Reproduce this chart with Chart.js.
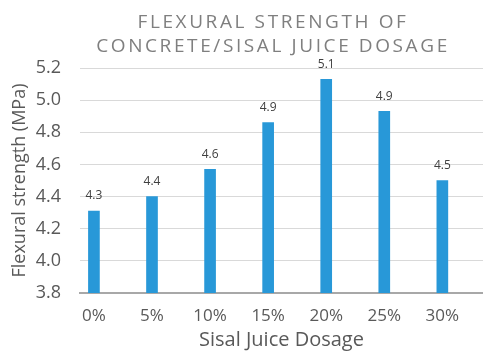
<!DOCTYPE html>
<html>
<head>
<meta charset="utf-8">
<script src="https://cdn.jsdelivr.net/npm/chart.js@4"></script>
<style>
  html, body { margin: 0; padding: 0; background: #ffffff; }
  #wrap { width: 483px; height: 353px; position: relative; }
</style>
</head>
<body>
<div id="wrap"><canvas id="c" width="483" height="353"></canvas></div>
<script>
// Sisal juice dosage categories and measured flexural strength (MPa)
const categories = ['0%', '5%', '10%', '15%', '20%', '25%', '30%'];
const strengthValues = [4.31, 4.40, 4.57, 4.86, 5.13, 4.93, 4.50];
const yTicks = [3.8, 4.0, 4.2, 4.4, 4.6, 4.8, 5.0, 5.2];
const titleLines = ['FLEXURAL STRENGTH OF', 'CONCRETE/SISAL JUICE DOSAGE'];
const xTitle = 'Sisal Juice Dosage';
const yTitle = 'Flexural strength (MPa)';

const FONT = '"Open Sans", "Noto Sans", sans-serif';

// Two-line, letter-spaced chart title
const spacedTitle = {
  id: 'spacedTitle',
  afterDraw(chart) {
    const ctx = chart.ctx;
    ctx.save();
    ctx.font = '19px ' + FONT;
    ctx.fillStyle = '#7f7f7f';
    ctx.textAlign = 'center';
    ctx.textBaseline = 'middle';
    ctx.letterSpacing = '2.6px';
    titleLines.forEach((line, i) => ctx.fillText(line, 273, 23 + i * 24));
    ctx.restore();
  }
};

// Value labels above each bar
const barLabels = {
  id: 'barLabels',
  afterDatasetsDraw(chart) {
    const ctx = chart.ctx;
    const meta = chart.getDatasetMeta(0);
    ctx.save();
    ctx.font = '12px ' + FONT;
    ctx.fillStyle = '#404040';
    ctx.textAlign = 'center';
    ctx.textBaseline = 'middle';
    meta.data.forEach((bar, i) => {
      ctx.fillText(strengthValues[i].toFixed(1), bar.x, bar.y - 15);
    });
    ctx.restore();
  }
};

new Chart(document.getElementById('c'), {
  type: 'bar',
  data: {
    datasets: [{
      data: strengthValues.map((v, i) => ({ x: i, y: v })),
      backgroundColor: '#2898d8',
      borderWidth: 0,
      barThickness: 11
    }]
  },
  options: {
    responsive: false,
    animation: false,
    layout: { padding: { top: 68, right: 0, bottom: 0, left: 0 } },
    plugins: {
      legend: { display: false },
      tooltip: { enabled: false },
      title: { display: false }
    },
    scales: {
      x: {
        type: 'linear',
        min: -0.24,
        max: 6.7,
        offset: false,
        grid: { display: false, drawTicks: false },
        border: { display: true, color: '#a8a8a8', width: 2 },
        afterBuildTicks(scale) {
          scale.ticks = categories.map((_, i) => ({ value: i }));
        },
        afterFit(scale) { scale.height = 60; },
        ticks: {
          autoSkip: false,
          maxRotation: 0,
          padding: 13,
          color: '#595959',
          font: { family: FONT, size: 17 },
          callback: (v) => categories[v]
        },
        title: {
          display: true,
          text: xTitle,
          color: '#595959',
          font: { family: FONT, size: 20 },
          padding: { top: 0, bottom: 1 }
        }
      },
      y: {
        min: 3.8,
        max: 5.2,
        grid: { color: '#d9d9d9', lineWidth: 1, drawTicks: false },
        border: { display: false },
        afterBuildTicks(scale) {
          scale.ticks = yTicks.map(v => ({ value: v }));
        },
        afterFit(scale) { scale.width = 80; },
        ticks: {
          padding: 19,
          color: '#595959',
          font: { family: FONT, size: 18 },
          callback: (v) => Number(v).toFixed(1)
        },
        title: {
          display: true,
          text: yTitle,
          color: '#595959',
          font: { family: FONT, size: 18 },
          padding: { top: 9, bottom: 0 }
        }
      }
    }
  },
  plugins: [spacedTitle, barLabels]
});
</script>
</body>
</html>
